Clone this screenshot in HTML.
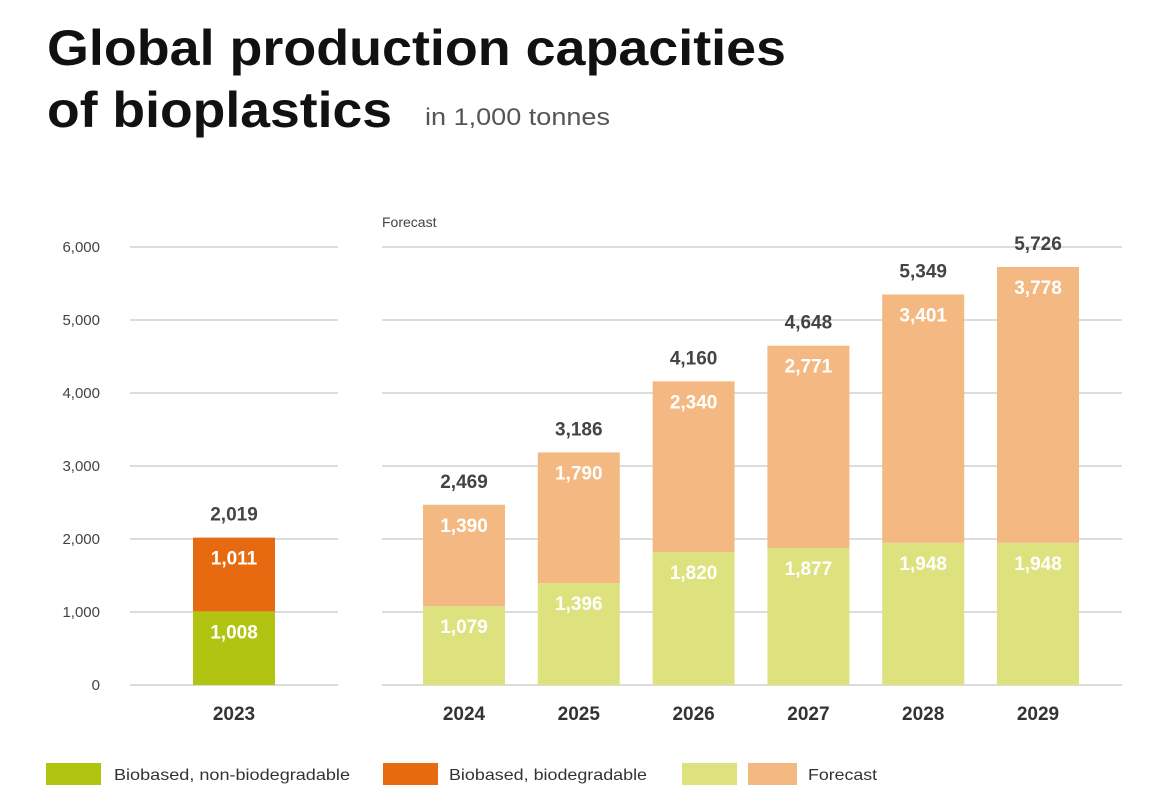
<!DOCTYPE html>
<html><head><meta charset="utf-8"><style>
body{margin:0;background:#fff;}
svg{display:block;font-family:"Liberation Sans",Arial,sans-serif;}
</style></head><body>
<svg id="c" width="1158" height="803" viewBox="0 0 1158 803">
<text x="47" y="65" font-size="50" font-weight="bold" fill="#111" textLength="739" lengthAdjust="spacingAndGlyphs">Global production capacities</text>
<text x="47" y="127" font-size="50" font-weight="bold" fill="#111" textLength="345" lengthAdjust="spacingAndGlyphs">of bioplastics</text>
<text x="425" y="125" font-size="24" fill="#555" textLength="185" lengthAdjust="spacingAndGlyphs">in 1,000 tonnes</text>
<text x="382" y="227" font-size="14" fill="#444">Forecast</text>
<g id="grid"></g><g id="bars"></g>
<g>
<rect x="46" y="763" width="55" height="22" fill="#b1c412"/>
<text x="114" y="780" font-size="16" fill="#333" textLength="236" lengthAdjust="spacingAndGlyphs">Biobased, non-biodegradable</text>
<rect x="383" y="763" width="55" height="22" fill="#e86a10"/>
<text x="449" y="780" font-size="16" fill="#333" textLength="198" lengthAdjust="spacingAndGlyphs">Biobased, biodegradable</text>
<rect x="682" y="763" width="55" height="22" fill="#dde27e"/>
<rect x="748" y="763" width="49" height="22" fill="#f4b982"/>
<text x="808" y="780" font-size="16" fill="#333" textLength="69" lengthAdjust="spacingAndGlyphs">Forecast</text>
</g>
</svg>
<script>
const years=["2023","2024","2025","2026","2027","2028","2029"];
const nonBio=[1008,1079,1396,1820,1877,1948,1948];
const bio=[1011,1390,1790,2340,2771,3401,3778];
const totals=[2019,2469,3186,4160,4648,5349,5726];
const ticks=[0,1000,2000,3000,4000,5000,6000];
const NS="http://www.w3.org/2000/svg";
const y0=685,pxPer=438/6000;
const yS=v=>y0-v*pxPer;
const xS=i=>i===0?193:423+(i-1)*114.8;
const bw=82;
const fmt=v=>v.toLocaleString("en-US");
function mk(t,a,p){const e=document.createElementNS(NS,t);for(const k in a)e.setAttribute(k,a[k]);p.appendChild(e);return e;}
const g=document.getElementById("grid"),b=document.getElementById("bars");
ticks.forEach(t=>{
 const y=yS(t);
 const l1=mk("line",{x1:130,x2:338,y1:y,y2:y,stroke:"#c8c8c8","stroke-width":1.2},g);
 
 
 const l2=mk("line",{x1:382,x2:1122,y1:y,y2:y,stroke:"#c8c8c8","stroke-width":1.2},g);
 
 
 const tx=mk("text",{x:100,y:y+5,"text-anchor":"end","font-size":15,fill:"#444"},g);
 tx.textContent=fmt(t);
 
 
});
years.forEach((yr,i)=>{
 const x=xS(i),cx=x+bw/2,f=i>0;
 const yg=yS(nonBio[i]),yt=yS(nonBio[i]+bio[i]);
 const r1=mk("rect",{x:x,y:yg,width:bw,height:y0-yg,fill:f?"#dde27e":"#b1c412"},b);
 
 
 const r2=mk("rect",{x:x,y:yt,width:bw,height:yg-yt,fill:f?"#f4b982":"#e86a10"},b);
 
 
 const t1=mk("text",{x:cx,y:yg+27,"text-anchor":"middle","font-size":19,"font-weight":"bold",fill:"#fff"},b);
 t1.textContent=fmt(nonBio[i]);
 
 
 const t2=mk("text",{x:cx,y:yt+27,"text-anchor":"middle","font-size":19,"font-weight":"bold",fill:"#fff"},b);
 t2.textContent=fmt(bio[i]);
 
 
 const t3=mk("text",{x:cx,y:yt-17,"text-anchor":"middle","font-size":19,"font-weight":"bold",fill:"#444"},b);
 t3.textContent=fmt(totals[i]);
 
 
 const t4=mk("text",{x:cx,y:720,"text-anchor":"middle","font-size":19,"font-weight":"bold",fill:"#333"},b);
 t4.textContent=yr;
 
 
});
</script>
</body></html>
